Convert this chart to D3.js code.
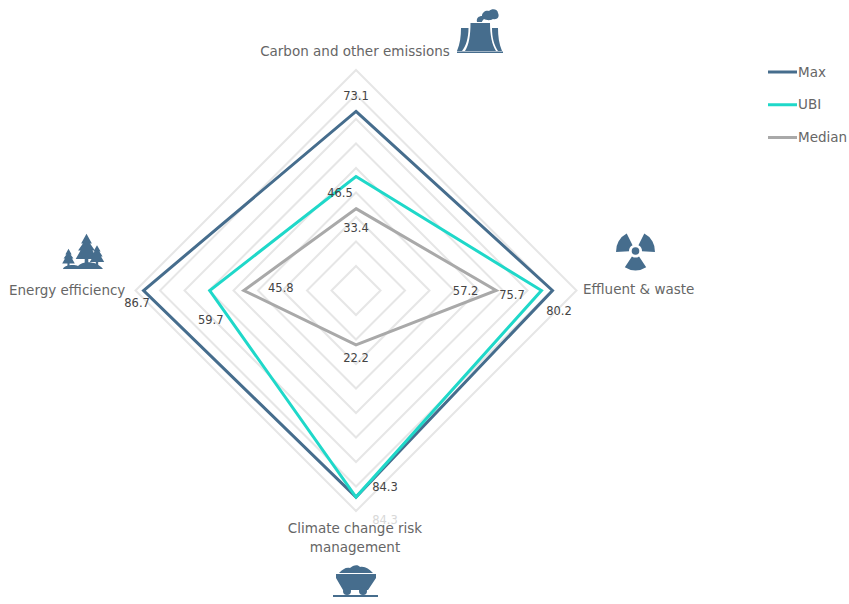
<!DOCTYPE html>
<html>
<head>
<meta charset="utf-8">
<script src="https://cdn.jsdelivr.net/npm/d3@7/dist/d3.min.js"></script>
<style>
  html, body { margin: 0; padding: 0; background: #fff; }
  svg { display: block; font-family: "DejaVu Sans", sans-serif; }
</style>
</head>
<body>
<svg id="chart" width="849" height="604"></svg>
<script>
// order is clockwise from the top
const categories = ["Carbon and other emissions", "Effluent & waste", "Climate change risk management", "Energy efficiency"];
const maxValues = [73.1, 80.2, 84.3, 86.7];
const ubiValues = [46.5, 75.7, 84.3, 59.7];
const medianValues = [33.4, 57.2, 22.2, 45.8];
const gridTicks = [10, 20, 30, 40, 50, 60, 70, 80, 90];
const seriesNames = ["Max", "UBI", "Median"];

const cx = 356, cy = 290.5;
const iconColor = "#466d8d";
const seriesColors = ["#466d8d", "#1fd8c9", "#a9a9a9"];
const seriesValues = [maxValues, ubiValues, medianValues];

const svg = d3.select("#chart");
const plot = svg.append("g").attr("transform", `translate(${cx}, ${cy})`);

const rScale = d3.scaleLinear().domain([0, 90]).range([0, 220.5]);
const aScale = d3.scaleBand().domain(d3.range(categories.length)).range([0, 2 * Math.PI]);
const angle = (i) => aScale(i);
const px = (i, v) => rScale(v) * Math.sin(angle(i));
const py = (i, v) => -rScale(v) * Math.cos(angle(i));

const radial = d3.lineRadial()
  .angle((d, i) => angle(i))
  .radius((d) => rScale(d))
  .curve(d3.curveLinearClosed);

// grid rings
plot.selectAll(".ring")
  .data(gridTicks)
  .enter()
  .append("path")
  .attr("class", "ring")
  .attr("d", (t) => radial(categories.map(() => t)))
  .attr("fill", "none")
  .attr("stroke", "#e6e6e6")
  .attr("stroke-width", 2);

// series, the first one stays underneath
plot.selectAll(".series")
  .data(seriesValues)
  .enter()
  .append("path")
  .attr("class", "series")
  .attr("d", (d) => radial(d))
  .attr("fill", "none")
  .attr("stroke", (d, i) => seriesColors[i])
  .attr("stroke-width", 3);

// value labels, nudges are [dx, dy] from the data point
const labelNudges = [
  [[0, -15], [6.5, 20.5], [29, -10], [-6.5, 12.5]],
  [[-16, 16.5], [-29.5, 4.5], [29, 22.5], [1, 29.5]],
  [[0, 19.5], [-30.5, 0.5], [0, 13], [37, -2.5]]
];
seriesValues.forEach((vals, s) => {
  plot.append("g")
    .selectAll("text")
    .data(vals)
    .enter()
    .append("text")
    .attr("x", (d, i) => px(i, d) + labelNudges[s][i][0])
    .attr("y", (d, i) => py(i, d) + labelNudges[s][i][1])
    .attr("text-anchor", "middle")
    .attr("dy", "0.35em")
    .attr("font-size", 11.5)
    // the bottom UBI label is nearly washed out in the original
    .attr("fill", (d, i) => (s === 1 && i === 2 ? "#d8d8d8" : "#444"))
    .text((d) => d.toFixed(1));
});

// category labels
const axisText = svg.append("g").attr("font-size", 13.5).attr("fill", "#666");
axisText.append("text").attr("x", 355).attr("y", 56).attr("text-anchor", "middle").text(categories[0]);
axisText.append("text").attr("x", 583).attr("y", 294).text(categories[1]);
axisText.append("text").attr("x", 355).attr("y", 533).attr("text-anchor", "middle").text("Climate change risk");
axisText.append("text").attr("x", 355).attr("y", 552).attr("text-anchor", "middle").text("management");
axisText.append("text").attr("x", 9).attr("y", 295).text(categories[3]);

// legend
const legend = svg.append("g");
const legendY = d3.scalePoint().domain(seriesNames).range([72, 137.5]);
legend.selectAll("line")
  .data(seriesNames)
  .enter()
  .append("line")
  .attr("x1", 768).attr("x2", 797)
  .attr("y1", (d) => legendY(d)).attr("y2", (d) => legendY(d))
  .attr("stroke", (d, i) => seriesColors[i])
  .attr("stroke-width", 3);
legend.selectAll("text")
  .data(seriesNames)
  .enter()
  .append("text")
  .attr("x", 798)
  .attr("y", (d) => legendY(d))
  .attr("dy", "0.35em")
  .attr("font-size", 13.5)
  .attr("fill", "#666")
  .text((d) => d);

// icons
const icons = svg.append("g").attr("fill", iconColor);

// power plant
icons.append("path").attr("transform", "translate(457, 8)")
  .attr("d", "M13.5 15 L33 15 C33 27 35 37 39 43 L8 43 C12 37 13.5 27 13.5 15 Z"
    + "M4 20 L11.5 20 C11.5 30 9 38 5 43 L0 43 C3 36 4 28 4 20 Z"
    + "M35 20 L41 20 C41 28 42 36 45 43 L41 43 C37 37 35 30 35 20 Z"
    + "M0 43.5 L46 43.5 L46 45 L0 45 Z"
    + "M20 14 C19 10 22 8 25 8 C25 4 29 2 32 3 C35 0 41 1 41 5 C43 9 40 12 36 11 C33 13 29 12 27 11 C26 12 25 13 25 14 Z");

// trees
const tree = "M0 -16 L4.5 -8 L3 -8 L7 -2 L5 -2 L9 5 L1.5 5 L1.5 9 L-1.5 9 L-1.5 5 L-9 5 L-5 -2 L-7 -2 L-3 -8 L-4.5 -8 Z";
icons.append("path").attr("transform", "translate(86.5, 253) scale(1.2)").attr("d", tree);
icons.append("path").attr("transform", "translate(97, 258) scale(0.8)").attr("d", tree);
icons.append("path").attr("transform", "translate(68.5, 260) scale(0.7)").attr("d", tree);
icons.append("path").attr("d", "M63 269 C64 265 74 264 78 266 C82 261 96 260 103 269 Z");

// radiation sign
const blade = d3.arc().innerRadius(6.5).outerRadius(19.5).startAngle(-0.58).endAngle(0.58);
[0, 120, 240].forEach((deg) => {
  icons.append("path")
    .attr("transform", `translate(635.5, 251) rotate(${deg + 60})`)
    .attr("d", blade());
});
icons.append("circle").attr("cx", 635.5).attr("cy", 251).attr("r", 3.8);

// mine cart
icons.append("path").attr("transform", "translate(333, 564)")
  .attr("d", "M6 9 C10 5 13 3 17 4 C20 1 25 0 27 3 C32 2 36 5 40 9 Z"
    + "M3 10 L43 10 L43 14 L35 26 L10 26 L3 14 Z"
    + "M0 31 L45 31 L45 33 L0 33 Z");
icons.selectAll(".wheel")
  .data([347, 363])
  .enter()
  .append("circle")
  .attr("class", "wheel")
  .attr("cx", (d) => d).attr("cy", 591).attr("r", 4);
</script>
</body>
</html>
